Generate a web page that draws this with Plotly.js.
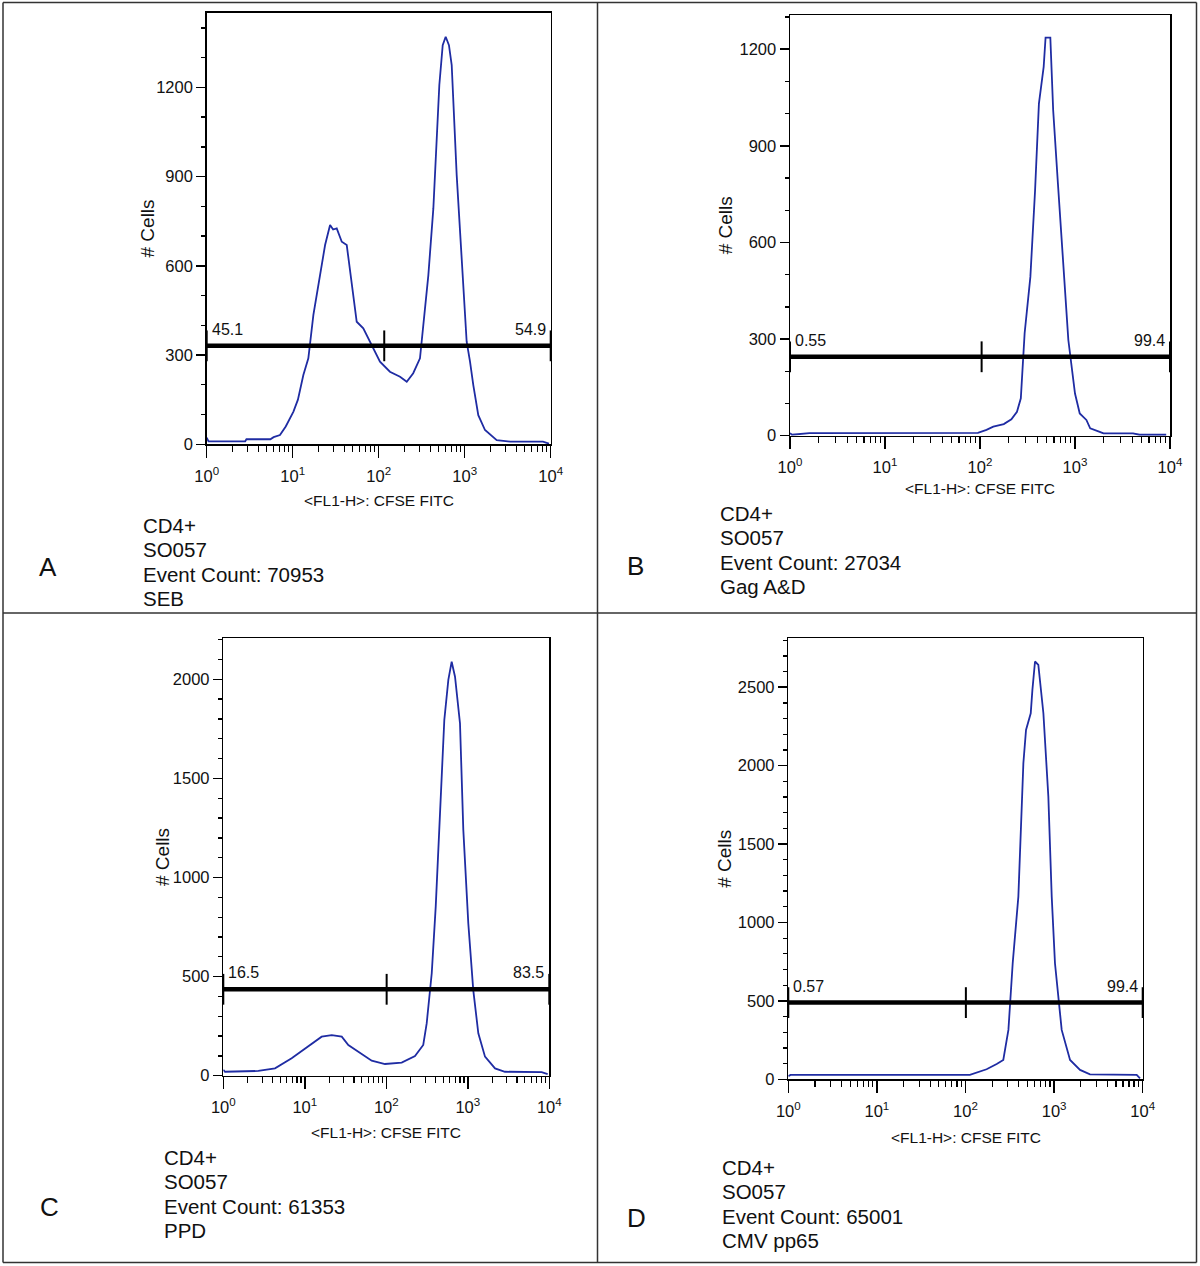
<!DOCTYPE html>
<html>
<head>
<meta charset="utf-8">
<script src="https://cdn.plot.ly/plotly-3.0.1.min.js"></script>
<style>html,body{margin:0;padding:0;background:#fff}#chart{width:1200px;height:1266px}</style>
</head>
<body>
<div id="chart"></div>
<script>
// ---------------- data ----------------
// Panel A: SEB
const xA = [1.0, 1.05, 2.8, 2.9, 5.5, 6.0, 7.11, 8.3, 10.2, 11.5, 13.3, 15.2, 17.4, 20.7, 23.8, 27.2, 29.5, 32.5, 37.2, 42.5, 48.5, 55.5, 66.2, 79.3, 103.5, 135, 177, 212, 252, 302, 330, 378, 432, 463, 507, 555, 601, 656, 706, 807, 923, 1054, 1153, 1259, 1439, 1722, 2355, 3388, 8128, 9550];
const yA = [22, 10, 10, 17, 17, 24, 31, 60, 110, 150, 233, 289, 435, 558, 670, 737, 722, 726, 681, 670, 535, 412, 390, 345, 278, 244, 227, 210, 239, 289, 401, 569, 793, 984, 1208, 1342, 1370, 1342, 1275, 905, 625, 345, 278, 199, 98, 48, 14, 9, 9, 2];
// Panel B: Gag A&D
const xB = [1.0, 1.05, 1.6, 95, 117, 138, 178, 214, 245, 269, 295, 339, 380, 417, 468, 490, 550, 589, 661, 759, 851, 1000, 1122, 1318, 1445, 1820, 1995, 4074, 4786, 9120];
const yB = [8, 3, 8, 9, 18, 28, 36, 51, 74, 116, 318, 493, 762, 1031, 1145, 1236, 1236, 1011, 783, 504, 297, 131, 69, 49, 23, 12, 7, 7, 3, 3];
// Panel C: PPD
const xC = [1.0, 1.05, 2.69, 4.31, 6.9, 11.0, 16.1, 21.4, 28.4, 34.2, 45.3, 66.2, 96.4, 154.5, 225, 284, 313, 361, 404, 456, 515, 577, 634, 697, 802, 881, 1014, 1167, 1346, 1626, 2158, 2858, 8054, 9550];
const yC = [30, 20, 24, 37, 88, 146, 197, 205, 197, 155, 121, 76, 59, 66, 99, 155, 264, 517, 853, 1357, 1795, 1997, 2089, 2013, 1778, 1240, 769, 432, 214, 96, 37, 20, 18, 8];
// Panel D: CMV pp65
const xD = [1.0, 1.06, 112, 134, 173, 225, 256, 267, 305, 341, 395, 420, 450, 482, 545, 569, 609, 664, 757, 861, 940, 1023, 1218, 1514, 1963, 2541, 8551, 9333];
const yD = [20, 28, 28, 43, 64, 98, 113, 123, 315, 740, 1165, 1590, 2015, 2228, 2334, 2483, 2664, 2643, 2334, 1803, 1165, 740, 315, 123, 60, 32, 28, 6];

// Gates (marker bars): [low end, divider, high end] on the FL1 axis, and bar height
const gateX = {A: [1, 116, 10000], B: [1, 104, 10000], C: [1, 101, 10000], D: [1, 101, 10000]};
const gateY = {A: 331, B: 245, C: 436, D: 489};
const gateLeftLabel  = {A: "45.1", B: "0.55", C: "16.5", D: "0.57"};
const gateRightLabel = {A: "54.9", B: "99.4", C: "83.5", D: "99.4"};

// Y axis upper limits and major tick spacing
const yTop  = {A: 1451, B: 1306, C: 2207, D: 2812};
const yStep = {A: 300, B: 300, C: 500, D: 500};

// Panel captions
const panelLetters = ["A", "B", "C", "D"];
const captionLines = {
  A: ["CD4+", "SO057", "Event Count: 70953", "SEB"],
  B: ["CD4+", "SO057", "Event Count: 27034", "Gag A&D"],
  C: ["CD4+", "SO057", "Event Count: 61353", "PPD"],
  D: ["CD4+", "SO057", "Event Count: 65001", "CMV pp65"]
};

// Axis text
const xAxisTitle = "&lt;FL1-H&gt;: CFSE FITC";
const yAxisTitle = "# Cells";
const decadeVals = [1, 10, 100, 1000, 10000];
const decadeText = ["10<sup>0</sup>", "10<sup>1</sup>", "10<sup>2</sup>", "10<sup>3</sup>", "10<sup>4</sup>"];
const minorVals = [2,3,4,5,6,7,8,9,20,30,40,50,60,70,80,90,200,300,400,500,600,700,800,900,2000,3000,4000,5000,6000,7000,8000,9000];

// ---------------- layout geometry (pixels in the 1200x1266 page) ----------------
const W = 1200, H = 1266;
const box = {
  A: {l: 206.7, r: 550.7, t: 12.7, b: 444.3, xt: 500,  yt: 147,  letter: [48, 567],  cap: [141, 525]},
  B: {l: 790,   r: 1170,  t: 15,   b: 435.7, xt: 489,  yt: 725,  letter: [635, 566], cap: [717.5, 513]},
  C: {l: 223.3, r: 549.3, t: 638.3,b: 1075.7,xt: 1132, yt: 162,  letter: [49, 1207], cap: [161.5, 1157]},
  D: {l: 788.3, r: 1142.7,t: 638.3,b: 1079.3,xt: 1137, yt: 725,  letter: [636, 1218],cap: [720, 1167]}
};
const FONT = "Liberation Sans, Arial, Helvetica, sans-serif";
const curveColor = "#1f2ca3";

const data = [];
const layout = {
  width: W, height: H,
  margin: {l: 0, r: 0, t: 0, b: 0},
  paper_bgcolor: "#fff", plot_bgcolor: "#fff",
  showlegend: false,
  font: {family: FONT, size: 16, color: "#111"},
  annotations: [], shapes: []
};

const series = {A: [xA, yA], B: [xB, yB], C: [xC, yC], D: [xD, yD]};

panelLetters.forEach((p, i) => {
  const n = i + 1;
  const xa = n === 1 ? "x" : "x" + n;
  const ya = n === 1 ? "y" : "y" + n;
  const xk = n === 1 ? "xaxis" : "xaxis" + n;
  const yk = n === 1 ? "yaxis" : "yaxis" + n;
  const g = box[p];

  data.push({
    type: "scatter", mode: "lines", x: series[p][0], y: series[p][1],
    xaxis: xa, yaxis: ya, line: {color: curveColor, width: 1.8}, hoverinfo: "x+y"
  });
  data.push({
    type: "scatter", mode: "lines+markers", x: gateX[p], y: [gateY[p], gateY[p], gateY[p]],
    xaxis: xa, yaxis: ya, cliponaxis: false,
    line: {color: "#000", width: 4.5},
    marker: {symbol: "line-ns", size: 22, color: "#000", line: {color: "#000", width: 2}},
    hoverinfo: "skip"
  });

  layout[xk] = {
    domain: [g.l / W, g.r / W], anchor: ya, type: "log", range: [0, 4],
    tickmode: "array", tickvals: decadeVals, ticktext: decadeText,
    ticks: "outside", ticklen: 12, tickwidth: 1.5, tickcolor: "#000",
    ticklabelstandoff: 4,
    showline: true, mirror: true, linecolor: "#000", linewidth: 1.5,
    showgrid: false, zeroline: false, automargin: false, fixedrange: true,
    tickfont: {family: FONT, size: 16.5, color: "#111"},
    minor: {tickmode: "array", tickvals: minorVals, ticks: "outside", ticklen: 6, tickwidth: 1.3, tickcolor: "#000", showgrid: false}
  };
  layout[yk] = {
    domain: [1 - g.b / H, 1 - g.t / H], anchor: xa, range: [0, yTop[p]],
    tickmode: "linear", tick0: 0, dtick: yStep[p],
    ticks: "outside", ticklen: 9, tickwidth: 1.5, tickcolor: "#000",
    showline: true, mirror: true, linecolor: "#000", linewidth: 1.5,
    showgrid: false, zeroline: false, automargin: false, fixedrange: true,
    tickfont: {family: FONT, size: 16.5, color: "#111"},
    minor: {dtick: 100, tick0: 0, ticks: "outside", ticklen: 4, tickwidth: 1.3, tickcolor: "#000", showgrid: false}
  };

  // gate percentages
  layout.annotations.push({
    xref: xa + " domain", yref: ya, x: 0, y: gateY[p], xanchor: "left", yanchor: "bottom",
    xshift: 3, yshift: 6, text: gateLeftLabel[p], showarrow: false,
    font: {family: FONT, size: 16, color: "#111"}
  });
  layout.annotations.push({
    xref: xa + " domain", yref: ya, x: 1, y: gateY[p], xanchor: "right", yanchor: "bottom",
    xshift: -3, yshift: 6, text: gateRightLabel[p], showarrow: false,
    font: {family: FONT, size: 16, color: "#111"}
  });

  // axis titles
  layout.annotations.push({
    xref: "paper", yref: "paper", x: ((g.l + g.r) / 2) / W, y: 1 - g.xt / H,
    xanchor: "center", yanchor: "middle", text: xAxisTitle, showarrow: false,
    font: {family: FONT, size: 15.5, color: "#111"}
  });
  layout.annotations.push({
    xref: "paper", yref: "paper", x: g.yt / W, y: 1 - ((g.t + g.b) / 2) / H,
    xanchor: "center", yanchor: "middle", text: yAxisTitle, textangle: -90, showarrow: false,
    font: {family: FONT, size: 19, color: "#111"}
  });

  // panel letter
  layout.annotations.push({
    xref: "paper", yref: "paper", x: g.letter[0] / W, y: 1 - g.letter[1] / H,
    xanchor: "center", yanchor: "middle", text: p, showarrow: false,
    font: {family: FONT, size: 26, color: "#111"}
  });
  // caption lines
  captionLines[p].forEach((t, k) => {
    layout.annotations.push({
      xref: "paper", yref: "paper", x: g.cap[0] / W, y: 1 - (g.cap[1] + k * 24.5) / H,
      xanchor: "left", yanchor: "middle", text: t.replace(/&/g, "&amp;"), showarrow: false,
      font: {family: FONT, size: 20.5, color: "#111"}
    });
  });
});

// table borders
const vLines = [3, 597.5, 1196.5];
const hLines = [2.5, 613, 1262.5];
vLines.forEach(x => layout.shapes.push({type: "line", xref: "paper", yref: "paper",
  x0: x / W, x1: x / W, y0: 1 - 2.5 / H, y1: 1 - 1262.5 / H, line: {color: "#333", width: 1.5}}));
hLines.forEach(y => layout.shapes.push({type: "line", xref: "paper", yref: "paper",
  x0: 3 / W, x1: 1196.5 / W, y0: 1 - y / H, y1: 1 - y / H, line: {color: "#333", width: 1.5}}));

Plotly.newPlot("chart", data, layout, {displayModeBar: false, staticPlot: true});
</script>
</body>
</html>
